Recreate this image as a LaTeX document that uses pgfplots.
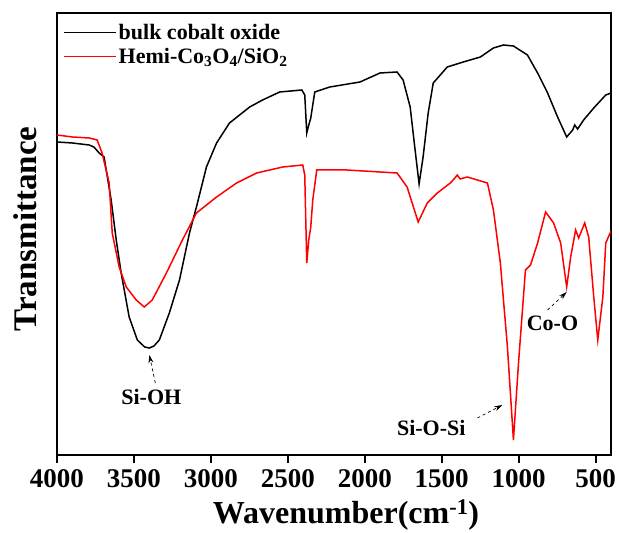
\documentclass[border=0pt]{standalone}
\usepackage{pgfplots}
\pgfplotsset{compat=1.18}
\usepackage{fontspec}
\setmainfont{Liberation Serif}
\usetikzlibrary{arrows.meta,calc}

% FTIR spectra (wavenumber in cm^-1, transmittance in arbitrary units)
\pgfplotstableread{
w     t
4000  313
3900  312
3791  310
3760  308
3726  302
3694  298
3648  255
3615  215
3583  182
3531  138
3478  115
3430  108
3400  107
3370  109
3335  115
3270  142
3204  175
3139  222
3094  248
3029  288
2963  312
2879  332
2748  348
2664  355
2553  363
2409  365
2390  360
2377  322
2364  330
2351  337
2325  363
2227  368
2031  373
1901  382
1790  383
1751  375
1705  348
1673  305
1647  271
1621  298
1588  342
1555  372
1464  388
1360  393
1249  398
1164  407
1099  410
1034  409
943   400
877   382
812   362
747   338
688   318
649   325
636   330
617   326
578   335
512   347
434   360
400   362
}\bulk

\pgfplotstableread{
w     t
4000  320
3900  318
3791  317
3739  315
3707  302
3661  272
3641  222
3596  188
3550  168
3485  155
3433  148
3381  155
3289  182
3185  215
3094  242
2963  258
2833  272
2703  282
2533  288
2403  290
2390  280
2377  192
2364  215
2351  228
2338  255
2312  285
2116  285
1790  282
1725  268
1653  233
1594  252
1529  262
1444  272
1420  276
1399  280
1380  276
1334  278
1203  272
1164  245
1119  192
1073  108
1034  15
1001  92
956   185
923   190
877   212
825   243
773   232
727   212
688   168
662   198
630   225
610   217
571   232
545   218
512   158
486   115
453   158
434   212
400   224
}\hemi

\begin{document}
\begin{tikzpicture}
\begin{axis}[
  width=554pt, height=442pt, scale only axis,
  x dir=reverse, xmin=400, xmax=4000, ymin=0, ymax=442,
  xtick={500,1000,...,4000},
  ytick=\empty,
  axis line style={line width=2.5pt},
  xtick pos=bottom, tick align=outside,
  major tick length=8pt,
  every tick/.style={black, line width=2pt},
  /pgf/number format/assume math mode=true,
  /pgf/number format/1000 sep={},
  xticklabel style={font=\bfseries\fontsize{27}{27}\selectfont, yshift=-3pt},
  xlabel={Wavenumber(cm\textsuperscript{-1})},
  ylabel={Transmittance},
  xlabel style={font=\bfseries\fontsize{32}{32}\selectfont, at={(axis description cs:0.5,0)}, anchor=center, yshift=-60pt, xshift=12pt},
  ylabel style={font=\bfseries\fontsize{33}{33}\selectfont, at={(axis description cs:0,0.5)}, anchor=center, yshift=32pt, xshift=5pt},
  legend cell align=left,
  legend style={draw=none, fill=none, at={(axis description cs:0,1)}, anchor=north west, xshift=5pt, yshift=-8pt,
    font=\bfseries\fontsize{22}{22}\selectfont, row sep=3pt, inner sep=1pt},
  legend image code/.code={\draw[mark repeat=2, mark phase=2, #1] plot coordinates {(0pt,0pt) (26pt,0pt) (52pt,0pt)};},
]
\addplot[color=black, line width=1.5pt] table[x=w, y=t] {\bulk};
\addlegendentry{bulk cobalt oxide}
\addplot[color=red, line width=1.5pt] table[x=w, y=t] {\hemi};
\addlegendentry{Hemi-Co\textsubscript{3}O\textsubscript{4}/SiO\textsubscript{2}}

% band assignments
\node[font=\bfseries\fontsize{22}{22}\selectfont] at (axis cs:3387,58) {Si-OH};
\draw[dashed, line width=0.7pt, -{Stealth[length=8pt,width=5pt]}] (axis cs:3361,72) -- (axis cs:3400,100);
\node[font=\bfseries\fontsize{22}{22}\selectfont] at (axis cs:1568,27) {Si-O-Si};
\draw[dashed, line width=0.7pt, -{Stealth[length=8pt,width=5pt]}] (axis cs:1268,37) -- (axis cs:1106,50);
\node[font=\bfseries\fontsize{22}{22}\selectfont] at (axis cs:780,132) {Co-O};
\draw[dashed, line width=0.7pt, -{Stealth[length=8pt,width=5pt]}] (axis cs:812,145) -- (axis cs:688,163);

\coordinate (sw) at (axis description cs:0,0);
\coordinate (ne) at (axis description cs:1,1);
\end{axis}
\pgfresetboundingbox
\path ($(sw)+(-57pt,-77pt)$) rectangle ($(ne)+(8pt,13pt)$);
\end{tikzpicture}
\end{document}
